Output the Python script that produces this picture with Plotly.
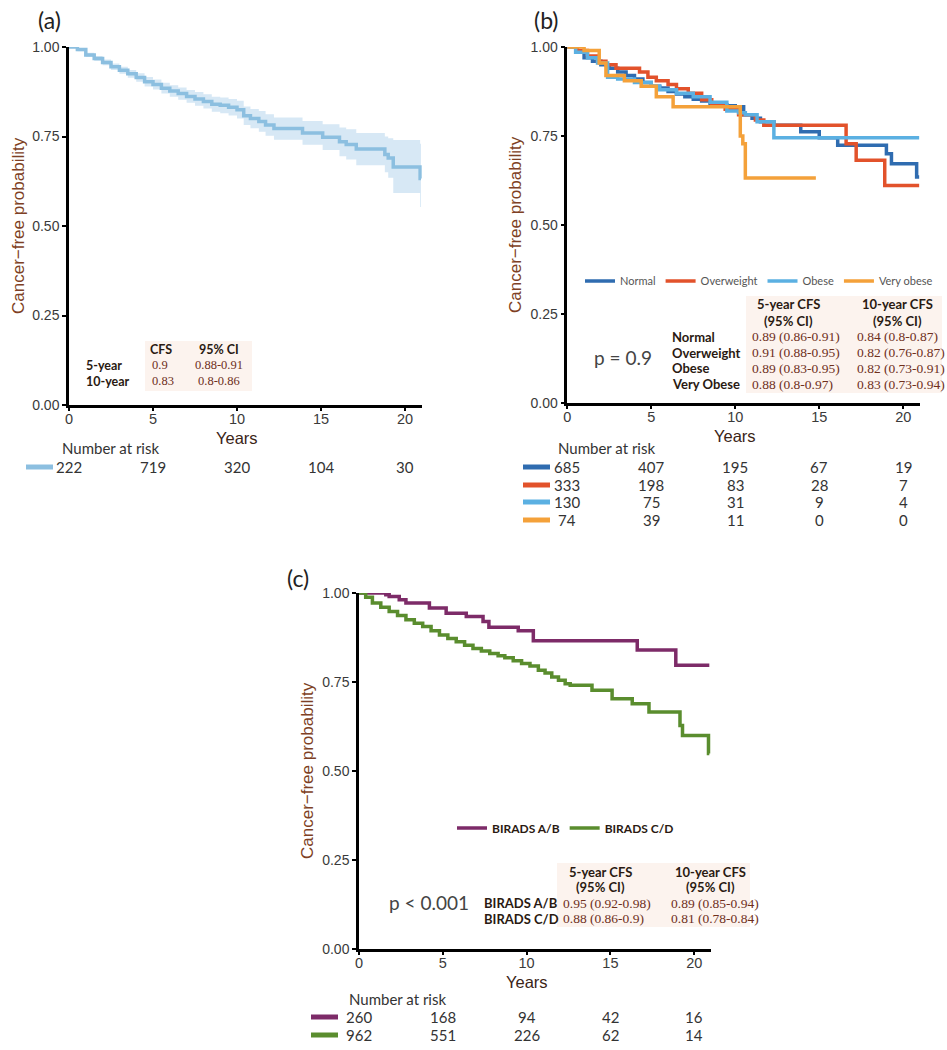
import plotly.graph_objects as go

W, H = 947, 1050

# ---------------- shared ticks ----------------
year_ticks = [0, 5, 10, 15, 20]
prob_ticks = [0, 0.25, 0.5, 0.75, 1.0]
prob_ticktext = ["0.00", "0.25", "0.50", "0.75", "1.00"]

# ---------------- panel (a): overall ----------------
a_time = [0, 0.5, 1.0, 1.5, 2.0, 2.5, 3.0, 3.5, 4.0, 4.5, 5.0, 5.5, 6.0, 6.5, 7.0, 7.5,
          8.0, 8.5, 9.0, 9.5, 10.0, 10.4, 10.8, 11.3, 11.7, 12.2, 13.9, 15.1, 16.1, 16.5,
          17.1, 18.8, 19.0, 19.3, 20.9, 20.95]
a_surv = [1.0, 0.993, 0.978, 0.968, 0.957, 0.945, 0.935, 0.925, 0.915, 0.903, 0.895, 0.885,
          0.877, 0.870, 0.862, 0.855, 0.848, 0.840, 0.837, 0.832, 0.825, 0.808, 0.800, 0.792,
          0.782, 0.772, 0.760, 0.748, 0.735, 0.728, 0.715, 0.700, 0.690, 0.665, 0.633, 0.633]
a_lower = [1.0, 0.988, 0.972, 0.961, 0.949, 0.936, 0.925, 0.914, 0.903, 0.890, 0.881, 0.870,
           0.861, 0.853, 0.844, 0.836, 0.828, 0.819, 0.815, 0.809, 0.800, 0.782, 0.773, 0.763,
           0.752, 0.741, 0.727, 0.712, 0.695, 0.686, 0.670, 0.650, 0.635, 0.592, 0.553, 0.553]
a_upper = [1.0, 0.997, 0.984, 0.975, 0.965, 0.954, 0.945, 0.936, 0.927, 0.916, 0.909, 0.900,
           0.893, 0.887, 0.880, 0.874, 0.868, 0.861, 0.859, 0.855, 0.850, 0.834, 0.827, 0.821,
           0.812, 0.803, 0.793, 0.784, 0.775, 0.770, 0.760, 0.750, 0.745, 0.740, 0.730, 0.730]
a_risk = [222, 719, 320, 104, 30]
a_rows = ["5-year", "10-year"]
a_cfs = ["0.9", "0.83"]
a_ci = ["0.88-0.91", "0.8-0.86"]

# ---------------- panel (b): BMI groups ----------------
b_names = ["Normal", "Overweight", "Obese", "Very obese"]
b_colors = ["#2f6cb0", "#e2522b", "#5bb0e2", "#f4a13a"]

b_time_normal = [0, 0.5, 1, 1.5, 2, 2.5, 3, 3.5, 4, 4.5, 5, 5.5, 6, 6.5, 7, 7.5, 8, 8.5, 9,
                 9.5, 10, 10.5, 11, 11.5, 12.3, 13.9, 15.0, 16.1, 19.0, 19.3, 20.8, 20.95]
b_surv_normal = [1, 0.985, 0.970, 0.960, 0.950, 0.940, 0.930, 0.920, 0.910, 0.900, 0.890,
                 0.885, 0.875, 0.868, 0.860, 0.853, 0.848, 0.842, 0.838, 0.835, 0.832, 0.810,
                 0.800, 0.790, 0.780, 0.762, 0.745, 0.724, 0.700, 0.672, 0.635, 0.635]
b_time_over = [0, 0.6, 1.2, 1.8, 2.3, 2.9, 4.3, 4.8, 5.3, 6.0, 6.5, 7.2, 8.0, 8.6, 9.4,
               10.2, 11.2, 11.7, 16.6, 17.2, 18.9, 20.95]
b_surv_over = [1, 0.990, 0.975, 0.960, 0.950, 0.940, 0.930, 0.915, 0.905, 0.895, 0.883,
               0.870, 0.852, 0.840, 0.825, 0.810, 0.795, 0.780, 0.728, 0.682, 0.611, 0.611]
b_time_obese = [0, 0.5, 1.2, 1.8, 2.4, 3.0, 4.0, 5.0, 5.5, 6.5, 7.5, 8.5, 9.5, 10.2, 10.6,
                11.3, 12.3, 20.95]
b_surv_obese = [1, 0.985, 0.970, 0.955, 0.915, 0.910, 0.900, 0.890, 0.880, 0.870, 0.860,
                0.845, 0.820, 0.815, 0.810, 0.790, 0.745, 0.745]
b_time_very = [0, 1.0, 1.9, 2.3, 3.4, 4.4, 5.3, 6.3, 10.3, 10.45, 10.6, 14.8]
b_surv_very = [1, 0.990, 0.955, 0.920, 0.905, 0.890, 0.860, 0.832, 0.750, 0.728, 0.632, 0.632]

b_risk_normal = [685, 407, 195, 67, 19]
b_risk_over = [333, 198, 83, 28, 7]
b_risk_obese = [130, 75, 31, 9, 4]
b_risk_very = [74, 39, 11, 0, 0]

b_rows = ["Normal", "Overweight", "Obese", "Very Obese"]
b_cfs5 = ["0.89 (0.86-0.91)", "0.91 (0.88-0.95)", "0.89 (0.83-0.95)", "0.88 (0.8-0.97)"]
b_cfs10 = ["0.84 (0.8-0.87)", "0.82 (0.76-0.87)", "0.82 (0.73-0.91)", "0.83 (0.73-0.94)"]
b_pvalue = "p = 0.9"

# ---------------- panel (c): BIRADS density ----------------
c_names = ["BIRADS A/B", "BIRADS C/D"]
c_colors = ["#7d2b68", "#5a8d2e"]
c_time_ab = [0, 1.6, 1.8, 2.4, 2.8, 4.2, 5.2, 6.4, 7.4, 7.75, 9.5, 10.4, 16.6, 18.9, 20.9]
c_surv_ab = [1, 0.995, 0.990, 0.981, 0.972, 0.958, 0.943, 0.934, 0.920, 0.904, 0.894, 0.866,
             0.840, 0.797, 0.797]
c_time_cd = [0, 0.4, 0.8, 1.3, 1.8, 2.3, 2.8, 3.3, 3.8, 4.3, 4.8, 5.3, 5.8, 6.3, 6.8, 7.3,
             7.8, 8.3, 8.7, 9.2, 9.7, 10.2, 10.7, 11.1, 11.5, 11.9, 12.3, 12.6, 13.9, 15.1,
             16.3, 17.3, 19.15, 19.3, 20.85, 20.9]
c_surv_cd = [1, 0.988, 0.972, 0.960, 0.948, 0.937, 0.925, 0.915, 0.906, 0.894, 0.882, 0.872,
             0.863, 0.853, 0.844, 0.837, 0.830, 0.824, 0.818, 0.810, 0.802, 0.795, 0.783,
             0.775, 0.764, 0.755, 0.745, 0.741, 0.727, 0.703, 0.689, 0.666, 0.628, 0.600,
             0.549, 0.549]
c_risk_ab = [260, 168, 94, 42, 16]
c_risk_cd = [962, 551, 226, 62, 14]
c_rows = ["BIRADS A/B", "BIRADS C/D"]
c_cfs5 = ["0.95 (0.92-0.98)", "0.88 (0.86-0.9)"]
c_cfs10 = ["0.89 (0.85-0.94)", "0.81 (0.78-0.84)"]
c_pvalue = "p &lt; 0.001"

# ---------------- helpers ----------------
def px(x):
    return x / W

def py(y):
    return 1 - y / H

SANS = "Liberation Sans"
HUM = "Lato"
SERIF = "Liberation Serif"
TXT_DARK = "#2a1a12"
VAL_COL = "#6e2f1b"
YT_COL = "#7e3f24"

fig = go.Figure()

# panel (a) traces
fig.add_trace(go.Scatter(x=a_time, y=a_lower, mode="lines", line=dict(width=0, shape="hv"),
                         showlegend=False, hoverinfo="skip", xaxis="x", yaxis="y"))
fig.add_trace(go.Scatter(x=a_time, y=a_upper, mode="lines", line=dict(width=0, shape="hv"),
                         fill="tonexty", fillcolor="rgba(150,195,228,0.38)",
                         showlegend=False, hoverinfo="skip", xaxis="x", yaxis="y"))
fig.add_trace(go.Scatter(x=a_time, y=a_surv, mode="lines",
                         line=dict(color="#8cbfe0", width=3.5, shape="hv"),
                         showlegend=False, xaxis="x", yaxis="y"))

# panel (b) traces
b_times = [b_time_normal, b_time_over, b_time_obese, b_time_very]
b_survs = [b_surv_normal, b_surv_over, b_surv_obese, b_surv_very]
for name, col, t, s in zip(b_names, b_colors, b_times, b_survs):
    fig.add_trace(go.Scatter(x=t, y=s, mode="lines", name=name,
                             line=dict(color=col, width=3.5, shape="hv"),
                             legend="legend", xaxis="x2", yaxis="y2"))

# panel (c) traces
c_times = [c_time_ab, c_time_cd]
c_survs = [c_surv_ab, c_surv_cd]
for name, col, t, s in zip(c_names, c_colors, c_times, c_survs):
    fig.add_trace(go.Scatter(x=t, y=s, mode="lines", name=name,
                             line=dict(color=col, width=3.5, shape="hv"),
                             legend="legend2", xaxis="x3", yaxis="y3"))

def xax(domain, anchor):
    return dict(domain=domain, anchor=anchor, range=[0, 21], tickvals=year_ticks,
                showline=True, linecolor="black", linewidth=2.5, ticks="outside",
                ticklen=3, tickwidth=2, tickcolor="black", showgrid=False, zeroline=False,
                tickfont=dict(family=SANS, size=14.5, color="#3a3a3a"), fixedrange=True)

def yax(domain, anchor):
    return dict(domain=domain, anchor=anchor, range=[0, 1], tickvals=prob_ticks,
                ticktext=prob_ticktext, showline=True, linecolor="black", linewidth=2.5,
                ticks="outside", ticklen=4, tickwidth=2, tickcolor="black",
                showgrid=False, zeroline=False,
                tickfont=dict(family=SANS, size=14, color="#3a3a3a"), fixedrange=True)

# pixel boxes
A = dict(l=69, r=421.8, t=47, b=405)
B = dict(l=567.3, r=920, t=47, b=403)
C = dict(l=359, r=711, t=593, b=949)

fig.update_layout(
    width=W, height=H, autosize=False,
    margin=dict(l=0, r=0, t=0, b=0, pad=0, autoexpand=False),
    paper_bgcolor="white", plot_bgcolor="white",
    xaxis=xax([px(A["l"]), px(A["r"])], "y"),
    yaxis=yax([py(A["b"]), py(A["t"])], "x"),
    xaxis2=xax([px(B["l"]), px(B["r"])], "y2"),
    yaxis2=yax([py(B["b"]), py(B["t"])], "x2"),
    xaxis3=xax([px(C["l"]), px(C["r"])], "y3"),
    yaxis3=yax([py(C["b"]), py(C["t"])], "x3"),
    legend=dict(orientation="h", x=px(580), y=py(281), xanchor="left", yanchor="middle",
                traceorder="normal",
                font=dict(family=HUM, size=11, color="#555555"), itemwidth=30,
                bgcolor="rgba(0,0,0,0)", borderwidth=0),
    legend2=dict(orientation="h", x=px(452), y=py(828), xanchor="left", yanchor="middle",
                 traceorder="normal",
                 font=dict(family=HUM, size=12, color=TXT_DARK, weight="bold"), itemwidth=30,
                 bgcolor="rgba(0,0,0,0)", borderwidth=0),
)
try:
    fig.update_xaxes(ticklabelstandoff=-4)
except Exception:
    pass

ann = []
shapes = []

def text(t, x, y, size=12, color=TXT_DARK, family=HUM, xanchor="left", bold=False,
         xref="paper", textangle=0):
    if bold:
        t = "<b>" + t + "</b>"
    ann.append(dict(text=t, x=(px(x) if xref == "paper" else x), y=py(y), xref=xref,
                    yref="paper", xanchor=xanchor, yanchor="middle", showarrow=False,
                    textangle=textangle,
                    font=dict(size=size, color=color, family=family)))

# panel labels
text("(a)", 49, 20, size=23, color="#222222", family=HUM, xanchor="center")
text("(b)", 546, 20, size=23, color="#222222", family=HUM, xanchor="center")
text("(c)", 298, 578, size=23, color="#222222", family=HUM, xanchor="center")

# axis titles
for box, xr, yt_x in [(A, "x", 18), (B, "x2", 515), (C, "x3", 307)]:
    text("Years", 10, box["b"] + 33, size=16.5, color="#3b2417", family=SANS,
         xanchor="center", xref=xr)
    text("Cancer\u2212free probability", yt_x, (box["t"] + box["b"]) / 2, size=17,
         color=YT_COL, family=SANS, xanchor="center", textangle=-90)

# light table backgrounds
for (x0, y0, x1, y1) in [(145, 341, 252, 391), (746, 296, 942, 393), (557, 863, 750, 927)]:
    shapes.append(dict(type="rect", xref="paper", yref="paper", x0=px(x0), x1=px(x1),
                       y0=py(y1), y1=py(y0), fillcolor="#fcf3ee", line=dict(width=0),
                       layer="below"))

# panel (a) CFS table
text("CFS", 161, 350, size=12.5, bold=True, xanchor="center")
text("95% CI", 219, 350, size=12.5, bold=True, xanchor="center")
for i, (r, v, ci) in enumerate(zip(a_rows, a_cfs, a_ci)):
    yy = 365 + 16 * i
    text(r, 84, yy, size=12.5, bold=True)
    text(v, 150, yy, size=12.5, color=VAL_COL, family=SERIF)
    text(ci, 219, yy, size=12.5, color=VAL_COL, family=SERIF, xanchor="center")

# panel (b) CFS table
text("5-year CFS", 788, 304, size=13, bold=True, xanchor="center")
text("(95% CI)", 788, 321, size=13, bold=True, xanchor="center")
text("10-year CFS", 897, 304, size=13, bold=True, xanchor="center")
text("(95% CI)", 897, 321, size=13, bold=True, xanchor="center")
for i, (r, v5, v10) in enumerate(zip(b_rows, b_cfs5, b_cfs10)):
    yy = 337 + 15.7 * i
    text(r, 670, yy, size=13, bold=True)
    text(v5, 750, yy, size=13.5, color=VAL_COL, family=SERIF)
    text(v10, 855, yy, size=13.5, color=VAL_COL, family=SERIF)
text(b_pvalue, 592, 358, size=19, color="#444444", family=HUM)

# panel (c) CFS table
text("5-year CFS", 600, 872, size=13, bold=True, xanchor="center")
text("(95% CI)", 600, 887, size=13, bold=True, xanchor="center")
text("10-year CFS", 710, 872, size=13, bold=True, xanchor="center")
text("(95% CI)", 710, 887, size=13, bold=True, xanchor="center")
for i, (r, v5, v10) in enumerate(zip(c_rows, c_cfs5, c_cfs10)):
    yy = 903 + 15.5 * i
    text(r, 482, yy, size=13, bold=True)
    text(v5, 561, yy, size=13.5, color=VAL_COL, family=SERIF)
    text(v10, 669, yy, size=13.5, color=VAL_COL, family=SERIF)
text(c_pvalue, 387, 902, size=19, color="#444444", family=HUM)

# risk tables
def risk_table(xref, label_x, label_y, bar_x0, bar_x1, rows, colors, row_y):
    text("Number at risk", label_x, label_y, size=15, color="#333333", family=HUM)
    for vals, col, yy in zip(rows, colors, row_y):
        shapes.append(dict(type="line", xref="paper", yref="paper", x0=px(bar_x0),
                           x1=px(bar_x1), y0=py(yy), y1=py(yy),
                           line=dict(color=col, width=5)))
        for t, v in zip(year_ticks, vals):
            text(str(v), t, yy, size=15, color="#333333", family=HUM,
                 xanchor="center", xref=xref)

risk_table("x", 60, 448, 26, 53, [a_risk], ["#8cbfe0"], [467])
risk_table("x2", 556, 448, 523, 550,
           [b_risk_normal, b_risk_over, b_risk_obese, b_risk_very], b_colors,
           [467, 485, 502, 520])
risk_table("x3", 347, 999, 311, 338, [c_risk_ab, c_risk_cd], c_colors, [1017, 1035])

fig.update_layout(annotations=ann, shapes=shapes)
fig.write_html("out.html", config={"displayModeBar": False},
               post_script="document.body.style.margin='0';")
